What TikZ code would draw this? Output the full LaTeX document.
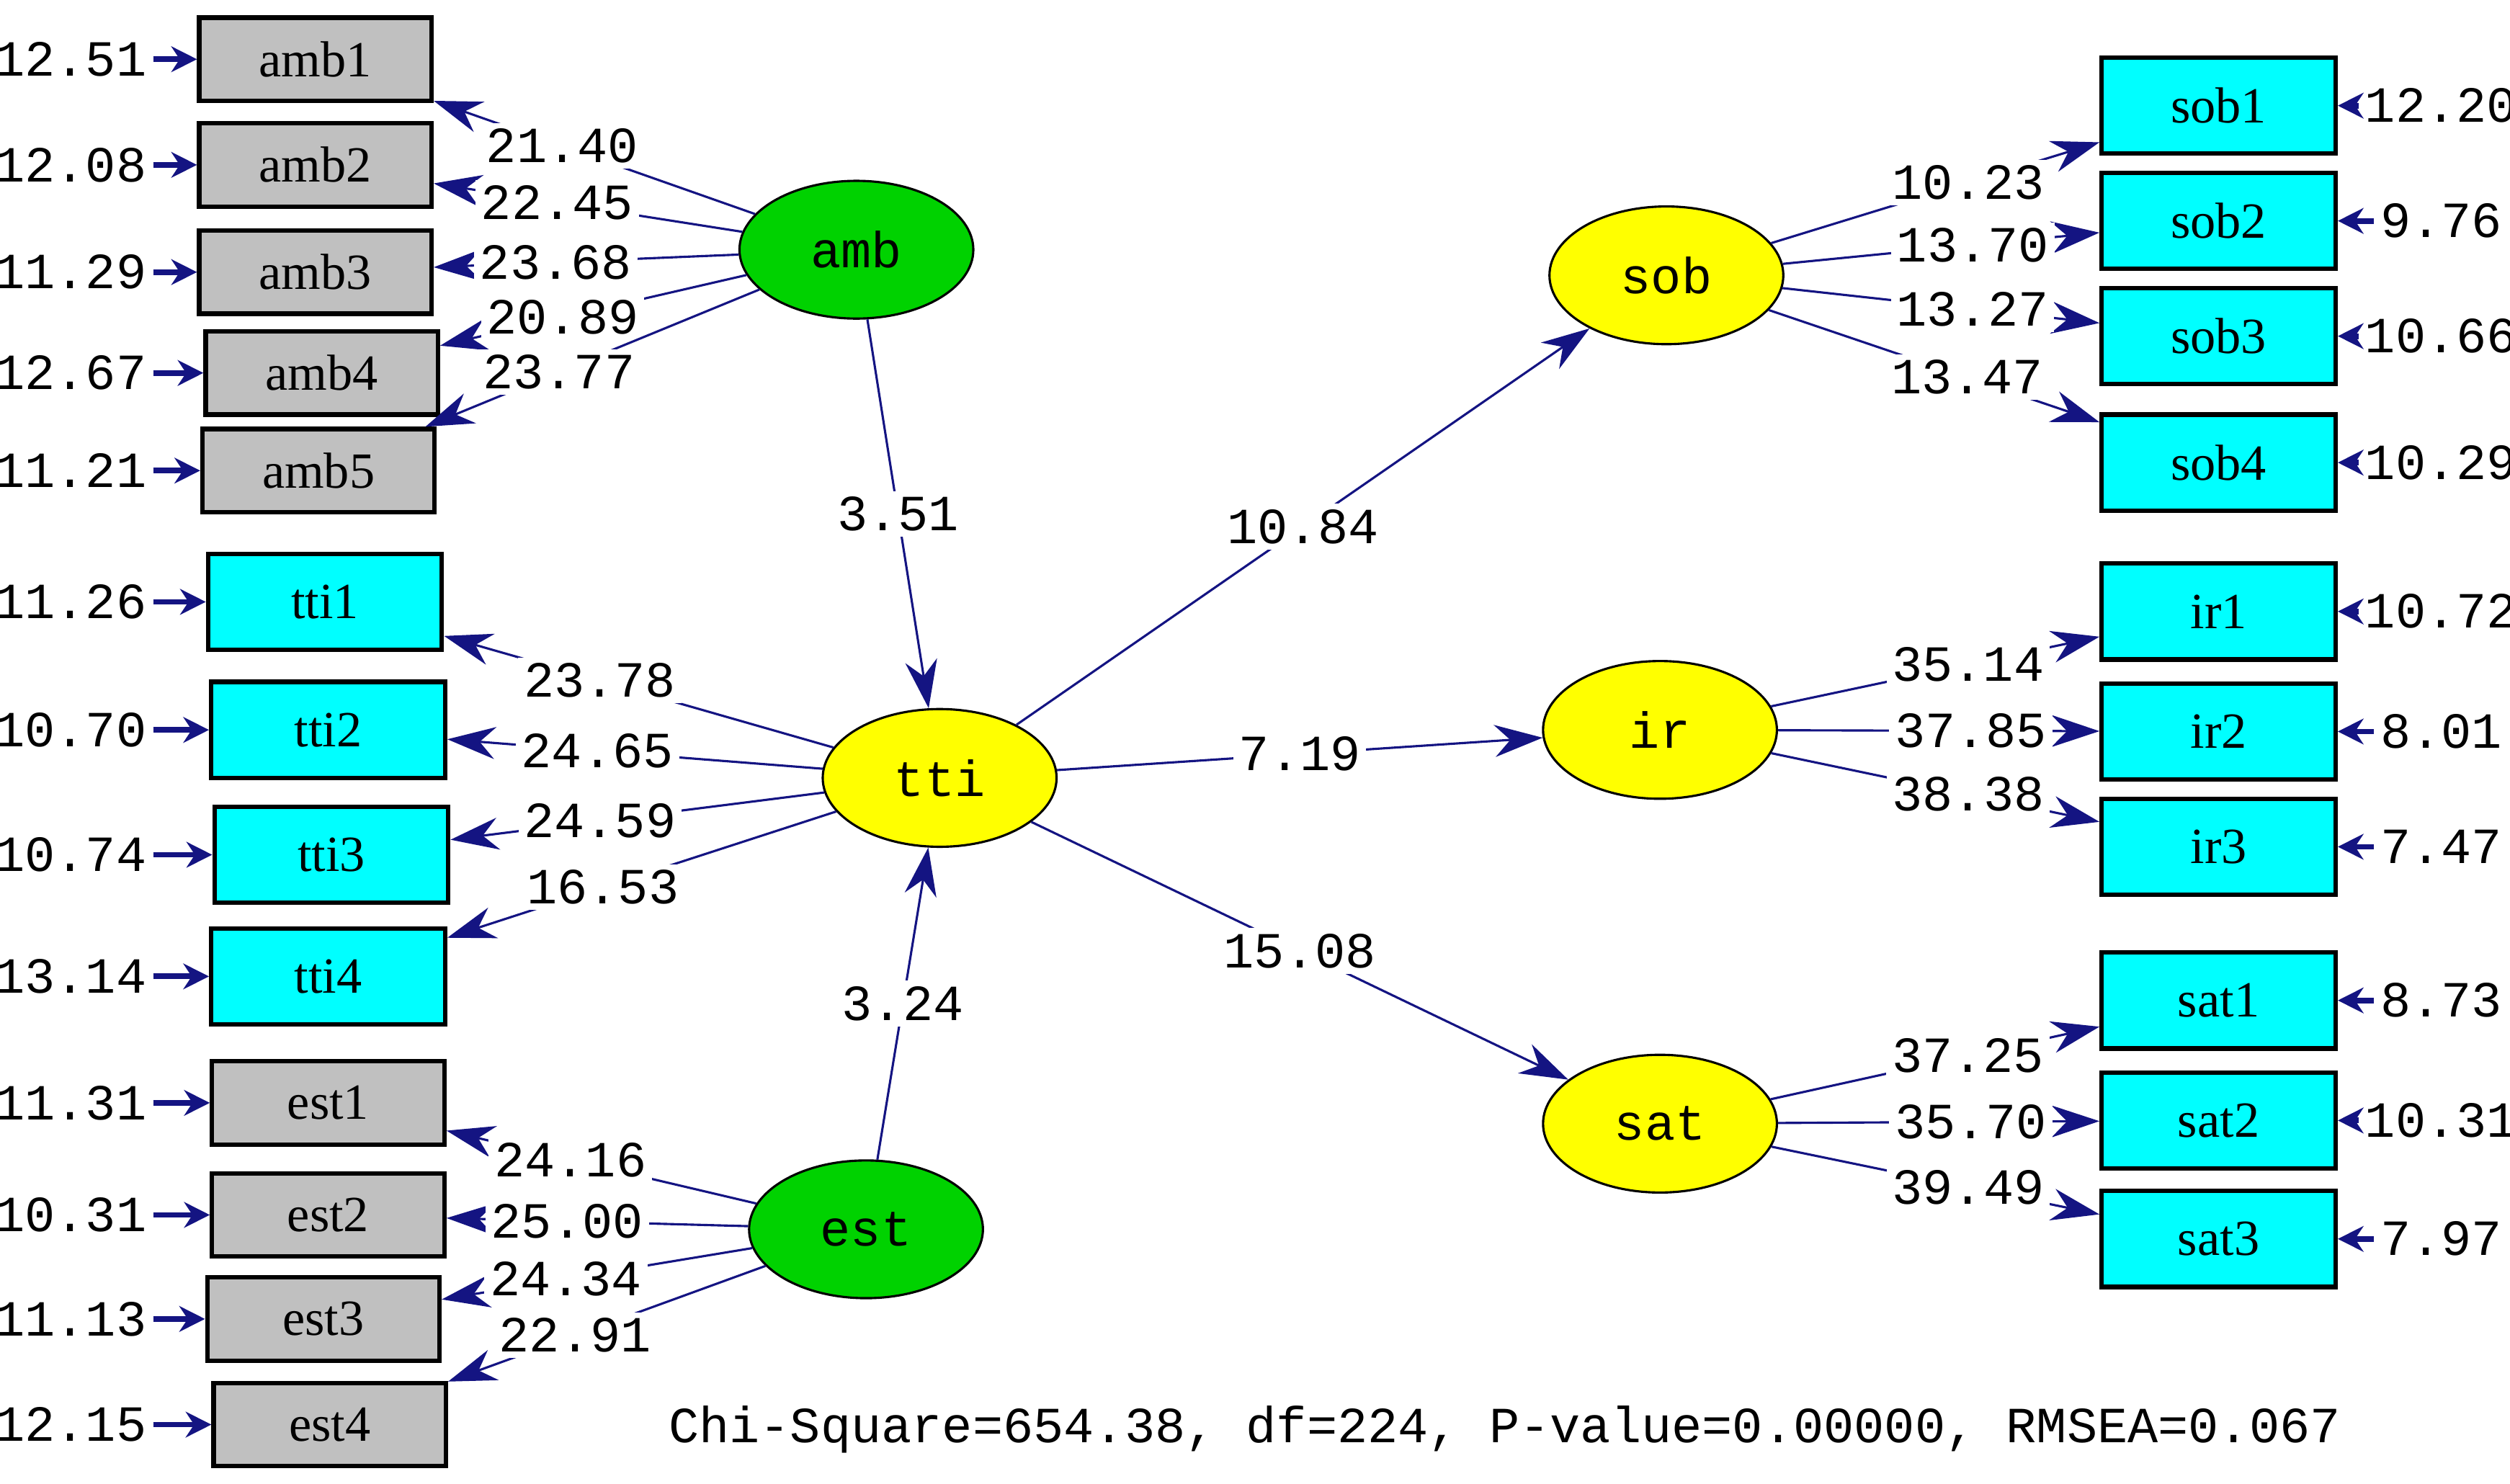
\documentclass[tikz,border=0pt]{standalone}
\usepackage{fontspec}
\setmainfont{Liberation Serif}
\newfontfamily\monof{Liberation Mono}
\usetikzlibrary{arrows.meta,shapes.geometric}
\definecolor{pathblue}{RGB}{20,20,130}
\definecolor{latgreen}{RGB}{0,210,0}
\definecolor{latyellow}{RGB}{255,255,0}
\definecolor{boxcyan}{RGB}{0,255,255}
\definecolor{boxgray}{RGB}{192,192,192}
\begin{document}
\begin{tikzpicture}
 [x=0.01cm, y=-0.01cm,
 grayvar/.style={rectangle, draw=black, fill=boxgray, thick, minimum width=1.45cm, minimum height=0.52cm, font=\small},
 cyanvar/.style={rectangle, draw=black, fill=boxcyan, thick, minimum width=1.46cm, minimum height=0.6cm, font=\small},
 greenlat/.style={ellipse, draw=black, fill=latgreen, thin, minimum width=1.46cm, minimum height=0.86cm, font=\monof\small},
 yellowlat/.style={ellipse, draw=black, fill=latyellow, thin, minimum width=1.46cm, minimum height=0.86cm, font=\monof\small},
 errnum/.style={font=\monof\small, inner sep=1pt},
 pathnum/.style={font=\monof\small, fill=white, inner sep=1pt},
 path/.style={draw=pathblue, -{Stealth[length=3mm,width=2mm]}},
 errpath/.style={draw=pathblue, line width=1pt, -{Stealth[length=1.6mm,width=1.6mm]}}
 ]
 \useasboundingbox (0,0) rectangle (1568,927);
 % latent variables
 \node at (535,156) [greenlat] (amb) {amb};
 \node at (587,486) [yellowlat] (tti) {tti};
 \node at (541,768) [greenlat] (est) {est};
 \node at (1041,172) [yellowlat] (sob) {sob};
 \node at (1037,456) [yellowlat] (ir) {ir};
 \node at (1037,702) [yellowlat] (sat) {sat};
 % left indicators
 \foreach \n/\x/\y/\s/\e in {amb1/197/37/grayvar/12.51, amb2/197/103/grayvar/12.08,
   amb3/197/170/grayvar/11.29, amb4/201/233/grayvar/12.67, amb5/199/294/grayvar/11.21,
   tti1/203/376/cyanvar/11.26, tti2/205/456/cyanvar/10.70, tti3/207/534/cyanvar/10.74,
   tti4/205/610/cyanvar/13.14, est1/205/689/grayvar/11.31, est2/205/759/grayvar/10.31,
   est3/202/824/grayvar/11.13, est4/206/890/grayvar/12.15}
 {
  \node at (\x,\y) [\s] (\n) {\n};
  \node at (44,\y) [errnum] (e-\n) {\e};
  \draw[errpath] (e-\n) -- (\n);
 }
 % right indicators
 \foreach \n/\y/\e in {sob1/66/12.20, sob2/138/9.76, sob3/210/10.66, sob4/289/10.29,
   ir1/382/10.72, ir2/457/8.01, ir3/529/7.47, sat1/625/8.73, sat2/700/10.31, sat3/774/7.97}
 {
  \node at (1386,\y) [cyanvar] (\n) {\n};
  \node at (1525,\y) [errnum] (e-\n) {\e};
  \draw[errpath] (e-\n) -- (\n);
 }
 % loadings
 \foreach \f/\t/\l in {amb/amb1/21.40, amb/amb2/22.45, amb/amb3/23.68, amb/amb4/20.89, amb/amb5/23.77,
   tti/tti1/23.78, tti/tti2/24.65, tti/tti3/24.59, tti/tti4/16.53,
   est/est1/24.16, est/est2/25.00, est/est3/24.34, est/est4/22.91,
   sob/sob1/10.23, sob/sob2/13.70, sob/sob3/13.27, sob/sob4/13.47,
   ir/ir1/35.14, ir/ir2/37.85, ir/ir3/38.38,
   sat/sat1/37.25, sat/sat2/35.70, sat/sat3/39.49}
  \draw[path] (\f) -- (\t) node[pathnum, pos=0.6] {\l};
 % structural paths
 \draw[path] (amb) -- (tti) node[pathnum, pos=0.5] {3.51};
 \draw[path] (est) -- (tti) node[pathnum, pos=0.5] {3.24};
 \draw[path] (tti) -- (sob) node[pathnum, pos=0.5] {10.84};
 \draw[path] (tti) -- (ir) node[pathnum, pos=0.5] {7.19};
 \draw[path] (tti) -- (sat) node[pathnum, pos=0.5] {15.08};
 \node at (940,893) [font=\monof\small] (fit) {Chi-Square=654.38, df=224, P-value=0.00000, RMSEA=0.067};
\end{tikzpicture}
\end{document}
